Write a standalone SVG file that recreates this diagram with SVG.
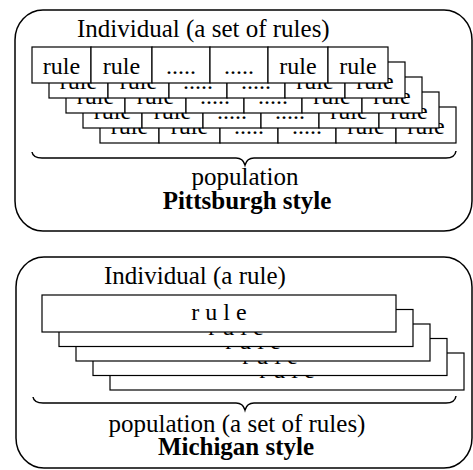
<svg xmlns="http://www.w3.org/2000/svg" width="473" height="470" viewBox="0 0 473 470">
<style>
.frame{fill:none;stroke:#000;stroke-width:1.5}
.cell{fill:#fff;stroke:#000;stroke-width:1.2}
.brace{fill:none;stroke:#000;stroke-width:1.5}
.t{font-family:'Liberation Serif','DejaVu Serif','Times New Roman',serif;font-size:24px;fill:#000}
.lbl{font-size:25px}
.c{text-anchor:middle}
.b{font-weight:bold}
</style>
<rect width="473" height="470" fill="#fff"/>

<g id="pittsburgh" class="t" font-family="Liberation Serif, DejaVu Serif, serif">
  <rect class="frame" x="15" y="10" width="457" height="221" rx="28" ry="30"/>
  <text class="lbl" x="77" y="37">Individual (a set of rules)</text>
  <g id="p-row5" transform="translate(68,60)">
    <rect class="cell" x="32" y="47" width="59" height="36"/><text class="c" x="61.5" y="74">rule</text>
    <rect class="cell" x="91" y="47" width="61" height="36"/><text class="c" x="121.5" y="74">rule</text>
    <rect class="cell" x="152" y="47" width="58" height="36"/><text class="c" x="181" y="74">.....</text>
    <rect class="cell" x="210" y="47" width="58" height="36"/><text class="c" x="239" y="74">.....</text>
    <rect class="cell" x="268" y="47" width="60" height="36"/><text class="c" x="298" y="74">rule</text>
    <rect class="cell" x="328" y="47" width="60" height="36"/><text class="c" x="358" y="74">rule</text>
  </g>
  <g id="p-row4" transform="translate(51,45)">
    <rect class="cell" x="32" y="47" width="59" height="36"/><text class="c" x="61.5" y="74">rule</text>
    <rect class="cell" x="91" y="47" width="61" height="36"/><text class="c" x="121.5" y="74">rule</text>
    <rect class="cell" x="152" y="47" width="58" height="36"/><text class="c" x="181" y="74">.....</text>
    <rect class="cell" x="210" y="47" width="58" height="36"/><text class="c" x="239" y="74">.....</text>
    <rect class="cell" x="268" y="47" width="60" height="36"/><text class="c" x="298" y="74">rule</text>
    <rect class="cell" x="328" y="47" width="60" height="36"/><text class="c" x="358" y="74">rule</text>
  </g>
  <g id="p-row3" transform="translate(34,30)">
    <rect class="cell" x="32" y="47" width="59" height="36"/><text class="c" x="61.5" y="74">rule</text>
    <rect class="cell" x="91" y="47" width="61" height="36"/><text class="c" x="121.5" y="74">rule</text>
    <rect class="cell" x="152" y="47" width="58" height="36"/><text class="c" x="181" y="74">.....</text>
    <rect class="cell" x="210" y="47" width="58" height="36"/><text class="c" x="239" y="74">.....</text>
    <rect class="cell" x="268" y="47" width="60" height="36"/><text class="c" x="298" y="74">rule</text>
    <rect class="cell" x="328" y="47" width="60" height="36"/><text class="c" x="358" y="74">rule</text>
  </g>
  <g id="p-row2" transform="translate(17,15)">
    <rect class="cell" x="32" y="47" width="59" height="36"/><text class="c" x="61.5" y="74">rule</text>
    <rect class="cell" x="91" y="47" width="61" height="36"/><text class="c" x="121.5" y="74">rule</text>
    <rect class="cell" x="152" y="47" width="58" height="36"/><text class="c" x="181" y="74">.....</text>
    <rect class="cell" x="210" y="47" width="58" height="36"/><text class="c" x="239" y="74">.....</text>
    <rect class="cell" x="268" y="47" width="60" height="36"/><text class="c" x="298" y="74">rule</text>
    <rect class="cell" x="328" y="47" width="60" height="36"/><text class="c" x="358" y="74">rule</text>
  </g>
  <g id="p-row1">
    <rect class="cell" x="32" y="47" width="59" height="36"/><text class="c" x="61.5" y="74">rule</text>
    <rect class="cell" x="91" y="47" width="61" height="36"/><text class="c" x="121.5" y="74">rule</text>
    <rect class="cell" x="152" y="47" width="58" height="36"/><text class="c" x="181" y="74">.....</text>
    <rect class="cell" x="210" y="47" width="58" height="36"/><text class="c" x="239" y="74">.....</text>
    <rect class="cell" x="268" y="47" width="60" height="36"/><text class="c" x="298" y="74">rule</text>
    <rect class="cell" x="328" y="47" width="60" height="36"/><text class="c" x="358" y="74">rule</text>
  </g>
  <text class="c lbl" x="245" y="185">population</text>
  <text class="c b lbl" x="247" y="209">Pittsburgh style</text>
</g>

<g id="michigan" class="t" font-family="Liberation Serif, DejaVu Serif, serif">
  <rect class="frame" x="16" y="257" width="456" height="211" rx="28" ry="30"/>
  <text class="lbl" x="104" y="284">Individual (a rule)</text>
  <g id="m-row5"><rect class="cell" x="110" y="353" width="354" height="37"/><text class="c" x="287" y="378">r u l e</text></g>
  <g id="m-row4"><rect class="cell" x="93" y="338.5" width="354" height="37"/><text class="c" x="270" y="363.5">r u l e</text></g>
  <g id="m-row3"><rect class="cell" x="76" y="324" width="354" height="37"/><text class="c" x="253" y="349">r u l e</text></g>
  <g id="m-row2"><rect class="cell" x="59" y="309.5" width="354" height="37"/><text class="c" x="236" y="334.5">r u l e</text></g>
  <g id="m-row1"><rect class="cell" x="42" y="295" width="354" height="37"/><text class="c" x="219" y="320">r u l e</text></g>
  <text class="c lbl" x="237" y="432">population (a set of rules)</text>
  <text class="c b lbl" x="236" y="455">Michigan style</text>
</g>

<g id="connectors">
  <path class="brace" d="M32,152 Q33,158 42,158 L236,158 Q243,158 245,165 Q247,158 254,158 L446,158 Q455,158 456,151"/>
  <path class="brace" d="M33,397 Q34,403 43,403 L236,403 Q243,403 245,410 Q247,403 254,403 L446,403 Q455,403 456,396"/>
</g>
</svg>
